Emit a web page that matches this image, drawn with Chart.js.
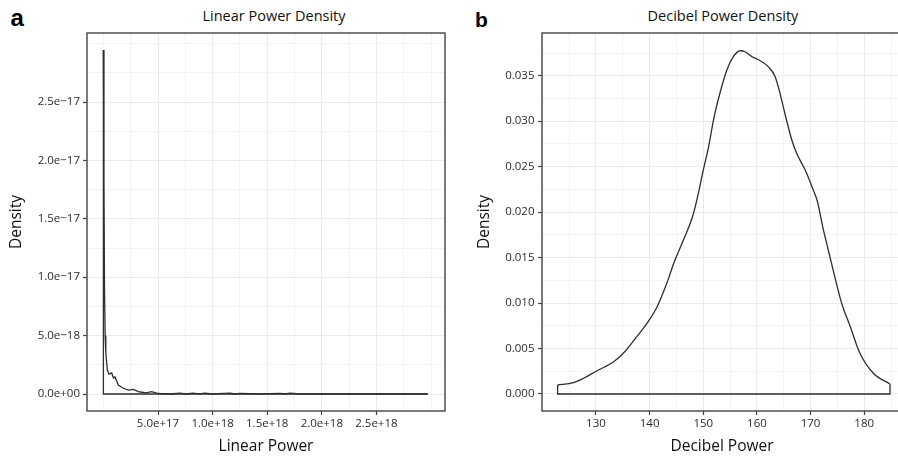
<!DOCTYPE html>
<html>
<head>
<meta charset="utf-8">
<script src="https://cdn.jsdelivr.net/npm/chart.js@4.4.1/dist/chart.umd.min.js"></script>
<style>
    body { margin: 0; width: 898px; height: 458px; overflow: hidden; background: #fff; position: relative; }
    canvas { position: absolute; top: 0; }
    .tag { position: absolute; font-family: "Liberation Sans", Arial, sans-serif; font-weight: bold; color: #000; line-height: 1; }
    .title { position: absolute; font-family: "Open Sans", sans-serif; font-size: 14.5px; line-height: 16px; color: #111; transform: translateX(-50%); white-space: nowrap; }
</style>
</head>
<body>
<div class="tag" style="left:10.5px; top:5.5px; font-size:24px;">a</div>
<div class="tag" style="left:475px; top:9px; font-size:21px;">b</div>
<div class="title" style="left:274px; top:8px;">Linear Power Density</div>
<div class="title" style="left:723px; top:8px;">Decibel Power Density</div>
<canvas id="linearChart" width="450" height="458" style="left:0"></canvas>
<canvas id="decibelChart" width="460" height="458" style="left:450px"></canvas>
<script>
// Panel a: density of linear power
const linearPower = [0, 0.05e17, 0.10e17, 0.16e17, 0.22e17, 0.30e17, 0.36e17, 0.51e17, 0.76e17, 0.91e17,
    1.06e17, 1.36e17, 1.82e17, 2.28e17, 2.74e17, 3.20e17, 3.53e17, 3.90e17, 4.42e17, 4.88e17,
    5.49e17, 6.10e17, 7.01e17, 7.56e17, 8.20e17, 8.75e17, 9.30e17, 9.94e17, 11.59e17, 12.05e17,
    12.50e17, 14.30e17, 16.17e17, 16.60e17, 17.10e17, 18.00e17, 29.70e17];
const linearDensity = [29.45e-18, 18e-18, 9e-18, 5e-18, 3.6e-18, 2.65e-18, 2.05e-18, 1.7e-18, 1.8e-18, 1.37e-18,
    1.48e-18, 0.77e-18, 0.49e-18, 0.34e-18, 0.40e-18, 0.20e-18, 0.15e-18, 0.10e-18, 0.20e-18, 0.08e-18,
    0.02e-18, 0, 0.08e-18, 0, 0.08e-18, 0.02e-18, 0.08e-18, 0, 0.07e-18, 0,
    0.06e-18, 0, 0.06e-18, 0, 0.08e-18, 0, 0];
const linearXTicks = [5e17, 1e18, 1.5e18, 2e18, 2.5e18];
const linearXLabels = ['5.0e+17', '1.0e+18', '1.5e+18', '2.0e+18', '2.5e+18'];
const linearYTicks = [0, 5e-18, 1e-17, 1.5e-17, 2e-17, 2.5e-17];
const linearYLabels = ['0.0e+00', '5.0e\u221218', '1.0e\u221217', '1.5e\u221217', '2.0e\u221217', '2.5e\u221217'];

// Panel b: density of decibel power
const decibelPower = [122.85, 125.8, 127.7, 130.2, 133.3, 135.1, 137.6, 139.5, 141.4, 143.2,
    144.5, 146.3, 147.9, 148.8, 150.0, 151.0, 151.9, 153.1, 154.4, 155.6,
    156.9, 157.8, 159.1, 160.6, 162.1, 163.4, 164.3, 164.9, 166.5, 167.4,
    169.0, 170.5, 171.2, 172.4, 173.0, 174.2, 175.8, 177.4, 179.2, 181.7, 184.8];
const decibelDensity = [0.00099, 0.00124, 0.00173, 0.00256, 0.00355, 0.00448, 0.0063, 0.00777, 0.0096, 0.01217,
    0.01437, 0.01693, 0.01932, 0.02133, 0.02463, 0.0272, 0.03013, 0.03307, 0.03563, 0.03709,
    0.03775, 0.03764, 0.03709, 0.03665, 0.036, 0.0349, 0.03307, 0.0316, 0.02793, 0.02647,
    0.02463, 0.02243, 0.02133, 0.01803, 0.01657, 0.01364, 0.00997, 0.0074, 0.00448, 0.00228, 0.0011];
const decibelXTicks = [130, 140, 150, 160, 170, 180];
const decibelXLabels = ['130', '140', '150', '160', '170', '180'];
const decibelYTicks = [0, 0.005, 0.01, 0.015, 0.02, 0.025, 0.03, 0.035];
const decibelYLabels = ['0.000', '0.005', '0.010', '0.015', '0.020', '0.025', '0.030', '0.035'];

const LINE = '#2e2e2e';
const FRAME = '#444444';
const TICK_TEXT = '#2b2b2b';

// draw the full panel border like theme_bw
const panelFrame = {
    id: 'panelFrame',
    afterDatasetsDraw(chart) {
        const { ctx, chartArea: a } = chart;
        ctx.save();
        ctx.strokeStyle = FRAME;
        ctx.lineWidth = 1.4;
        ctx.strokeRect(a.left, a.top, a.right - a.left, a.bottom - a.top);
        ctx.restore();
    }
};

// major ticks get labels, minor ones only a faint grid line
function axisTicks(major, labels, min, max) {
    const half = (major[1] - major[0]) / 2;
    const list = major.map((v, i) => ({ value: v, label: labels[i], isMajor: true }));
    for (let v = major[0] - half; v > min; v -= half) {
        if (!major.some(m => Math.abs(m - v) < half / 10)) list.push({ value: v, isMajor: false });
    }
    for (let v = major[0] + half; v < max; v += half) {
        if (!major.some(m => Math.abs(m - v) < half / 10)) list.push({ value: v, isMajor: false });
    }
    list.sort((p, q) => p.value - q.value);
    return list;
}

function makeScale(opts) {
    const ticks = axisTicks(opts.major, opts.labels, opts.min, opts.max);
    return {
        type: 'linear',
        position: opts.position,
        min: opts.min,
        max: opts.max,
        afterBuildTicks: scale => { scale.ticks = ticks.map(t => ({ ...t })); },
        afterFit: scale => {
            if (opts.position === 'left') scale.width = opts.size;
            else scale.height = opts.size;
        },
        border: { display: false },
        grid: {
            color: c => (c.tick && c.tick.isMajor) ? '#eaeaea' : '#f3f3f3',
            lineWidth: 1,
            tickLength: 4,
            tickColor: c => (c.tick && c.tick.isMajor) ? FRAME : 'rgba(0,0,0,0)',
            tickWidth: 1.2
        },
        ticks: {
            autoSkip: false,
            maxRotation: 0,
            padding: opts.tickPad,
            color: TICK_TEXT,
            font: { family: 'Open Sans', size: 11.5 },
            callback: (v, i, all) => all[i].isMajor ? all[i].label : ''
        },
        title: {
            display: true,
            text: opts.title,
            color: '#111',
            font: { family: 'Open Sans', size: 15.5 },
            padding: opts.titlePad
        }
    };
}

function densityChart(id, xs, ys, cfg) {
    const curve = xs.map((x, i) => ({ x: x, y: ys[i] }));
    const last = xs.length - 1;
    // closing edges of the density polygon
    const outline = [
        { x: xs[last], y: ys[last] }, { x: xs[last], y: 0 },
        { x: xs[0], y: 0 }, { x: xs[0], y: ys[0] }
    ];
    return new Chart(document.getElementById(id), {
        type: 'scatter',
        data: {
            datasets: [{
                data: curve,
                showLine: true,
                borderColor: LINE,
                borderWidth: 1.3,
                pointRadius: 0,
                tension: cfg.tension,
                cubicInterpolationMode: cfg.tension ? 'monotone' : 'default'
            }, {
                data: outline,
                showLine: true,
                borderColor: LINE,
                borderWidth: 1.3,
                pointRadius: 0,
                tension: 0
            }]
        },
        options: {
            responsive: false,
            animation: false,
            layout: { padding: cfg.padding },
            plugins: { legend: { display: false }, tooltip: { enabled: false }, title: { display: false } },
            scales: { x: cfg.x, y: cfg.y }
        },
        plugins: [panelFrame]
    });
}

densityChart('linearChart', linearPower, linearDensity, {
    tension: 0,
    padding: { left: 0, top: 33, right: 5, bottom: 0 },
    x: makeScale({ position: 'bottom', min: -1.502e17, max: 3.128e18, major: linearXTicks, labels: linearXLabels,
        size: 47, tickPad: 2, title: 'Linear Power', titlePad: { top: 0, bottom: 2 } }),
    y: makeScale({ position: 'left', min: -1.455e-18, max: 3.091e-17, major: linearYTicks, labels: linearYLabels,
        size: 87, tickPad: 3, title: 'Density', titlePad: { top: 7, bottom: 0 } })
});

densityChart('decibelChart', decibelPower, decibelDensity, {
    tension: 0.4,
    padding: { left: 0, top: 33, right: 8, bottom: 0 },
    x: makeScale({ position: 'bottom', min: 119.94, max: 187.04, major: decibelXTicks, labels: decibelXLabels,
        size: 47, tickPad: 2, title: 'Decibel Power', titlePad: { top: 0, bottom: 2 } }),
    y: makeScale({ position: 'left', min: -0.00187, max: 0.0397, major: decibelYTicks, labels: decibelYLabels,
        size: 92, tickPad: 3.5, title: 'Density', titlePad: { top: 25, bottom: 0 } })
});
</script>
</body>
</html>
